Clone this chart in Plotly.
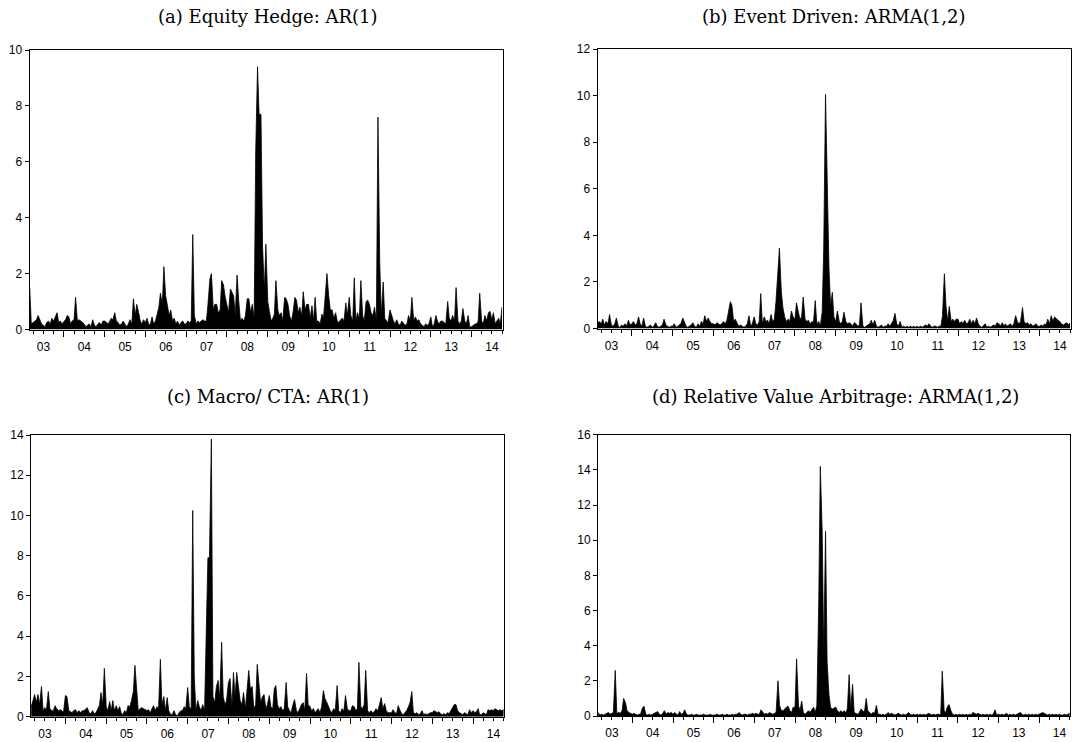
import pandas as pd
import plotly.graph_objects as go

# ---------------- data (semi-monthly readings, Mar 2003 - Oct 2014) ----------------
titles = ["(a) Equity Hedge: AR(1)", "(b) Event Driven: ARMA(1,2)",
          "(c) Macro/ CTA: AR(1)", "(d) Relative Value Arbitrage: ARMA(1,2)"]
year_labels_start = "2003-03-01"

equity_hedge = (
    [1.5, 0.2, 0.25, 0.3, 0.35, 0.5, 0.3, 0.2, 0.15, 0.1, 0.25, 0.3, 0.2, 0.4, 0.3, 0.45, 0.6, 0.25, 0.3, 0.2]
    + [0.3, 0.35, 0.5, 0.45, 0.2, 0.3, 0.35, 1.15, 0.3, 0.35, 0.3, 0.25, 0.2, 0.1, 0.15, 0.2, 0.1, 0.35, 0.15, 0.1, 0.2, 0.25, 0.15, 0.3]
    + [0.3, 0.25, 0.2, 0.3, 0.4, 0.35, 0.6, 0.3, 0.25, 0.15, 0.2, 0.3, 0.2, 0.1, 0.2, 0.35, 0.2, 1.1, 0.5, 0.9, 0.6, 0.3, 0.2, 0.35]
    + [0.25, 0.4, 0.15, 0.2, 0.45, 0.2, 0.3, 0.55, 0.8, 1.3, 0.9, 2.25, 1.2, 0.9, 0.5, 0.7, 0.3, 0.4, 0.2, 0.3, 0.15, 0.25, 0.3, 0.2]
    + [0.2, 0.3, 0.25, 0.3, 3.4, 0.5, 0.2, 0.3, 0.25, 0.3, 0.35, 0.3, 0.3, 0.9, 1.8, 2.0, 0.7, 0.9, 0.9, 0.6, 0.7, 1.75, 1.6, 1.2]
    + [0.8, 0.6, 1.45, 1.3, 1.2, 0.5, 1.95, 1.05, 0.3, 0.4, 0.3, 0.5, 1.1, 1.1, 0.6, 0.9, 0.4, 6.4, 9.4, 7.7, 7.7, 3.0, 1.4, 3.05]
    + [1.0, 0.65, 0.3, 0.4, 0.55, 1.75, 0.7, 0.5, 0.6, 0.3, 1.15, 1.1, 0.9, 0.5, 0.3, 0.6, 1.15, 1.05, 0.6, 0.8, 0.5, 1.35, 0.7, 0.9]
    + [0.9, 0.4, 0.85, 0.3, 1.15, 0.3, 0.3, 0.2, 0.55, 0.4, 1.2, 2.0, 1.2, 0.7, 0.7, 0.4, 0.6, 0.3, 0.25, 0.35, 0.4, 0.3, 0.95, 0.5]
    + [1.15, 0.5, 0.3, 1.85, 0.3, 0.6, 0.4, 1.75, 0.5, 0.3, 1.0, 1.05, 0.9, 0.6, 0.5, 0.8, 0.3, 7.6, 2.4, 0.5, 1.7, 0.4, 0.3, 0.25]
    + [0.7, 0.5, 0.3, 0.2, 0.35, 0.2, 0.15, 0.3, 0.2, 0.15, 0.2, 0.5, 0.3, 1.15, 0.3, 0.45, 0.3, 0.35, 0.2, 0.15, 0.1, 0.2, 0.15, 0.2]
    + [0.45, 0.1, 0.2, 0.5, 0.3, 0.2, 0.3, 0.3, 0.25, 0.2, 1.0, 0.4, 0.3, 0.5, 0.3, 1.5, 0.3, 0.2, 0.3, 0.75, 0.3, 0.2, 0.5, 0.1]
    + [0.1, 0.15, 0.2, 0.2, 0.3, 1.3, 0.3, 0.2, 0.5, 0.3, 0.6, 0.65, 0.35, 0.6, 0.2, 0.3, 0.4, 0.2, 0.8]
)

event_driven = (
    [0.25, 0.3, 0.2, 0.4, 0.15, 0.3, 0.2, 0.6, 0.15, 0.1, 0.2, 0.45, 0.1, 0.05, 0.15, 0.1, 0.2, 0.1, 0.35, 0.15]
    + [0.2, 0.3, 0.15, 0.2, 0.5, 0.2, 0.1, 0.45, 0.1, 0.05, 0.1, 0.15, 0.05, 0.1, 0.25, 0.1, 0.05, 0.1, 0.15, 0.4, 0.15, 0.1, 0.05, 0.1]
    + [0.1, 0.2, 0.05, 0.1, 0.15, 0.2, 0.45, 0.3, 0.1, 0.05, 0.1, 0.15, 0.25, 0.1, 0.05, 0.2, 0.1, 0.3, 0.2, 0.55, 0.3, 0.45, 0.3, 0.2]
    + [0.2, 0.15, 0.25, 0.2, 0.15, 0.2, 0.3, 0.2, 0.35, 0.7, 1.15, 1.0, 0.3, 0.4, 0.2, 0.1, 0.15, 0.1, 0.05, 0.1, 0.2, 0.55, 0.1, 0.2]
    + [0.5, 0.2, 0.15, 0.3, 1.5, 0.2, 0.5, 0.3, 0.35, 0.2, 0.6, 0.3, 0.4, 1.15, 2.45, 3.45, 1.6, 0.9, 0.5, 0.3, 0.4, 0.3, 0.75, 0.5]
    + [0.4, 1.1, 0.7, 0.4, 0.5, 1.35, 0.4, 0.3, 0.35, 0.2, 0.3, 0.25, 1.2, 0.2, 0.3, 0.1, 0.7, 3.45, 10.05, 6.5, 2.6, 1.0, 1.55, 0.5]
    + [0.3, 0.75, 0.3, 0.2, 0.3, 0.7, 0.3, 0.2, 0.25, 0.2, 0.1, 0.25, 0.2, 0.1, 0.15, 1.1, 0.1, 0.05, 0.1, 0.15, 0.2, 0.35, 0.15, 0.35]
    + [0.1, 0.05, 0.1, 0.15, 0.05, 0.1, 0.1, 0.2, 0.1, 0.2, 0.35, 0.65, 0.2, 0.1, 0.3, 0.05, 0.1, 0.05, 0.1, 0.05, 0.1, 0.05, 0.1, 0.05]
    + [0.1, 0.05, 0.1, 0.05, 0.1, 0.15, 0.1, 0.2, 0.1, 0.05, 0.1, 0.1, 0.05, 0.1, 0.1, 0.55, 2.35, 1.0, 0.3, 0.95, 0.3, 0.4, 0.3, 0.4]
    + [0.4, 0.2, 0.3, 0.2, 0.35, 0.2, 0.25, 0.4, 0.2, 0.35, 0.2, 0.45, 0.2, 0.1, 0.05, 0.1, 0.2, 0.05, 0.1, 0.05, 0.1, 0.15, 0.1, 0.25]
    + [0.2, 0.1, 0.25, 0.1, 0.2, 0.1, 0.15, 0.2, 0.1, 0.2, 0.55, 0.3, 0.2, 0.3, 0.9, 0.3, 0.2, 0.25, 0.15, 0.2, 0.1, 0.15, 0.2, 0.1]
    + [0.1, 0.15, 0.1, 0.2, 0.15, 0.4, 0.2, 0.55, 0.3, 0.5, 0.4, 0.35, 0.3, 0.2, 0.15, 0.2, 0.25, 0.15, 0.25]
)

macro_cta = (
    [0.5, 0.8, 1.1, 0.7, 1.1, 0.6, 1.5, 0.3, 0.45, 0.3, 1.25, 0.4, 0.3, 0.3, 0.55, 0.4, 0.3, 0.35, 0.3, 0.2]
    + [1.05, 1.0, 0.3, 0.25, 0.2, 0.3, 0.35, 0.2, 0.3, 0.2, 0.3, 0.3, 0.4, 0.45, 0.2, 0.15, 0.3, 0.15, 0.2, 0.4, 0.55, 1.2, 0.6, 2.4]
    + [0.5, 0.3, 0.75, 0.3, 0.8, 0.3, 0.55, 0.3, 0.5, 0.2, 0.1, 0.3, 0.2, 0.55, 0.5, 0.8, 1.25, 2.55, 1.4, 0.3, 0.4, 0.45, 0.4, 0.35]
    + [0.3, 0.35, 0.2, 0.4, 0.55, 0.3, 0.5, 0.4, 2.85, 0.6, 1.0, 0.3, 0.95, 0.3, 0.1, 0.1, 0.3, 0.1, 0.05, 0.2, 0.3, 0.3, 0.5, 0.4]
    + [1.45, 0.5, 0.4, 10.25, 2.0, 0.3, 0.8, 0.5, 0.3, 0.6, 0.3, 3.9, 7.9, 7.9, 13.8, 1.0, 0.7, 1.5, 1.8, 0.9, 3.7, 1.0, 0.6, 0.8]
    + [1.7, 1.9, 0.5, 2.2, 1.0, 2.2, 1.3, 0.8, 0.6, 1.2, 0.4, 1.5, 2.3, 1.4, 1.5, 0.4, 0.6, 2.6, 1.3, 0.7, 1.0, 1.1, 0.4, 0.6]
    + [1.05, 0.5, 0.4, 1.4, 1.55, 0.6, 0.4, 0.5, 0.3, 0.4, 1.7, 0.5, 0.3, 0.2, 0.6, 0.85, 0.3, 0.2, 0.4, 0.6, 0.7, 0.3, 2.15, 0.6]
    + [0.5, 0.3, 0.4, 0.2, 0.3, 0.4, 0.2, 0.5, 1.3, 0.9, 0.7, 0.5, 0.3, 0.2, 0.4, 0.3, 1.55, 0.3, 0.2, 0.4, 0.3, 1.05, 0.4, 0.3]
    + [0.3, 0.55, 0.5, 0.3, 0.4, 2.7, 0.5, 0.4, 0.6, 2.3, 0.3, 0.2, 0.3, 0.2, 0.25, 0.4, 0.3, 0.6, 0.95, 0.4, 0.65, 0.3, 0.2, 0.2]
    + [0.2, 0.35, 0.2, 0.15, 0.55, 0.35, 0.15, 0.1, 0.2, 0.3, 0.5, 0.7, 1.25, 0.2, 0.15, 0.2, 0.1, 0.15, 0.3, 0.1, 0.15, 0.1, 0.15, 0.2]
    + [0.2, 0.3, 0.25, 0.2, 0.25, 0.15, 0.1, 0.15, 0.1, 0.2, 0.15, 0.3, 0.45, 0.6, 0.6, 0.3, 0.2, 0.15, 0.1, 0.2, 0.15, 0.1, 0.35, 0.2]
    + [0.3, 0.2, 0.25, 0.4, 0.1, 0.1, 0.2, 0.15, 0.1, 0.35, 0.3, 0.35, 0.3, 0.4, 0.35, 0.3, 0.35, 0.3, 0.35]
)

relative_value = (
    [0.2, 0.05, 0.1, 0.05, 0.1, 0.15, 0.2, 0.1, 0.15, 0.2, 2.6, 0.15, 0.2, 0.15, 0.3, 1.0, 0.75, 0.3, 0.2, 0.15]
    + [0.1, 0.15, 0.1, 0.05, 0.1, 0.1, 0.45, 0.55, 0.1, 0.05, 0.1, 0.05, 0.1, 0.15, 0.2, 0.25, 0.1, 0.05, 0.15, 0.3, 0.1, 0.2, 0.15, 0.2]
    + [0.1, 0.2, 0.1, 0.05, 0.25, 0.1, 0.15, 0.35, 0.1, 0.05, 0.05, 0.1, 0.05, 0.05, 0.1, 0.05, 0.05, 0.05, 0.1, 0.05, 0.05, 0.05, 0.1, 0.05]
    + [0.05, 0.05, 0.1, 0.05, 0.05, 0.1, 0.05, 0.05, 0.1, 0.05, 0.05, 0.1, 0.05, 0.1, 0.1, 0.2, 0.1, 0.05, 0.1, 0.1, 0.05, 0.1, 0.1, 0.15]
    + [0.1, 0.15, 0.1, 0.1, 0.35, 0.25, 0.1, 0.15, 0.1, 0.2, 0.15, 0.1, 0.15, 0.2, 2.0, 0.6, 0.3, 0.3, 0.4, 0.5, 0.55, 0.3, 0.2, 0.5]
    + [0.5, 3.25, 0.6, 0.3, 0.85, 0.2, 0.1, 0.2, 0.3, 0.2, 0.4, 0.5, 0.2, 0.6, 6.5, 14.2, 10.5, 3.5, 10.5, 3.1, 1.2, 0.5, 0.4, 0.45]
    + [0.5, 0.3, 0.2, 0.3, 0.2, 0.3, 0.2, 0.4, 2.35, 0.4, 1.8, 0.2, 0.15, 0.1, 0.2, 0.4, 0.3, 0.2, 1.0, 0.3, 0.2, 0.1, 0.2, 0.15]
    + [0.6, 0.1, 0.1, 0.05, 0.1, 0.05, 0.1, 0.2, 0.1, 0.15, 0.1, 0.05, 0.1, 0.15, 0.1, 0.05, 0.1, 0.05, 0.1, 0.2, 0.1, 0.05, 0.1, 0.05]
    + [0.1, 0.05, 0.1, 0.05, 0.1, 0.05, 0.1, 0.15, 0.1, 0.05, 0.1, 0.05, 0.1, 0.1, 0.05, 2.55, 0.3, 0.2, 0.55, 0.65, 0.3, 0.1, 0.05, 0.1]
    + [0.05, 0.1, 0.05, 0.1, 0.05, 0.1, 0.05, 0.1, 0.05, 0.2, 0.15, 0.1, 0.15, 0.1, 0.05, 0.1, 0.05, 0.1, 0.05, 0.1, 0.05, 0.1, 0.35, 0.05]
    + [0.1, 0.05, 0.1, 0.05, 0.1, 0.15, 0.05, 0.1, 0.05, 0.1, 0.05, 0.1, 0.15, 0.2, 0.1, 0.05, 0.1, 0.05, 0.1, 0.05, 0.1, 0.05, 0.1, 0.05]
    + [0.1, 0.15, 0.2, 0.15, 0.1, 0.05, 0.1, 0.05, 0.1, 0.05, 0.1, 0.05, 0.1, 0.05, 0.05, 0.1, 0.05, 0.1, 0.15]
)

y_max = [10, 12, 14, 16]
series = [equity_hedge, event_driven, macro_cta, relative_value]

# ---------------- layout (pixel boxes of the four plot areas) ----------------
W, H = 1076, 742
boxes = [(29.5, 502.5, 50, 329.5), (597.5, 1070.5, 49, 328.5),
         (31, 504, 435, 716.7), (598, 1070, 434.7, 716)]
title_pos = [(268, 16), (833, 16), (268, 396), (835, 396)]
tick_font = dict(family="Liberation Sans, Arial", size=12, color="black")

fig = go.Figure()
for i, vals in enumerate(series):
    dates = pd.date_range(year_labels_start, periods=len(vals), freq="SMS")
    xa = "x" if i == 0 else f"x{i+1}"
    ya = "y" if i == 0 else f"y{i+1}"
    fig.add_trace(go.Scatter(
        x=dates, y=vals, xaxis=xa, yaxis=ya, mode="lines",
        line=dict(color="black", width=0.8), fill="tozeroy",
        fillcolor="black", showlegend=False, hoverinfo="skip"))
    x0, x1, y0, y1 = boxes[i]
    key = "" if i == 0 else str(i + 1)
    fig.layout["xaxis" + key] = dict(
        domain=[x0 / W, x1 / W], anchor=ya, type="date",
        range=["2003-02-27", "2014-10-05"],
        tick0="2003-01-01", dtick="M12", tickformat="%y",
        ticklabelmode="period", ticks="outside", ticklen=6, tickwidth=1,
        tickcolor="black", showline=True, linecolor="black", linewidth=1,
        mirror=True, showgrid=False, zeroline=False, automargin=False,
        tickfont=tick_font,
        minor=dict(dtick="M3", tick0="2003-01-01", ticks="outside",
                   ticklen=3, tickwidth=1, tickcolor="black", showgrid=False))
    fig.layout["yaxis" + key] = dict(
        domain=[1 - y1 / H, 1 - y0 / H], anchor=xa,
        range=[0, y_max[i]], dtick=2, ticks="outside", ticklen=4,
        tickwidth=1, tickcolor="black", showline=True, linecolor="black",
        linewidth=1, mirror=True, showgrid=False, zeroline=False,
        automargin=False, tickfont=tick_font)

annotations = []
for t, (tx, ty) in zip(titles, title_pos):
    annotations.append(dict(
        text=t, x=tx / W, y=1 - ty / H, xref="paper", yref="paper",
        xanchor="center", yanchor="middle", showarrow=False,
        font=dict(family="DejaVu Serif, Liberation Serif, serif", size=18, color="black")))

fig.update_layout(
    width=W, height=H, margin=dict(l=0, r=0, t=0, b=0),
    paper_bgcolor="white", plot_bgcolor="white",
    annotations=annotations)

fig.write_html("out.html", config={"displayModeBar": False, "staticPlot": True},
               post_script="document.body.style.margin='0px';document.body.style.overflow='hidden';")
